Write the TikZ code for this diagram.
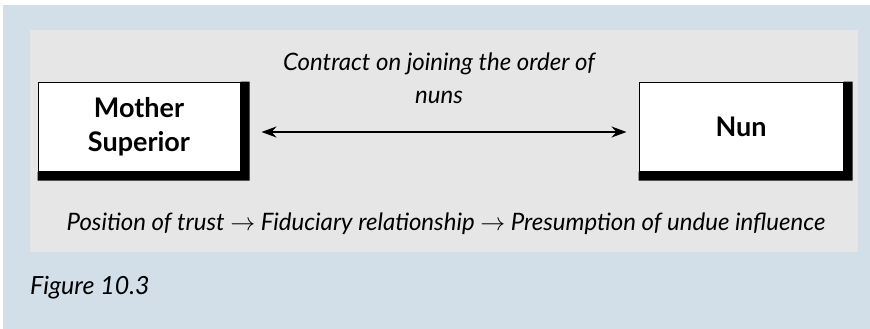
\documentclass[tikz,border=0pt]{standalone}
\usepackage{xcolor}
\usepackage{fontspec}
\setmainfont{Lato}
\usepackage{tikz}
\usetikzlibrary{arrows.meta}

\definecolor{pageblue}{HTML}{D3DFE8}
\definecolor{panelgrey}{HTML}{E6E6E6}

\begin{document}
\begin{tikzpicture}[x=1pt,y=1pt]
	\tikzstyle{every node}+=[inner sep=0pt]
	\tikzstyle{party}=[draw=black, line width=1pt, fill=white, minimum width=202pt, minimum height=89pt, align=center, font=\fontsize{27}{34}\selectfont\bfseries]
	\tikzstyle{remark}=[align=center, font=\fontsize{24}{33}\selectfont\itshape]
	\useasboundingbox (0,0) rectangle (870,-329);
	\fill [pageblue] (3,-5) rectangle (870,-329);
	\fill [panelgrey] (30,-30) rectangle (858,-252);
	% the two parties
	\node [party] (mother) at (139,-126.5) {Mother\\Superior};
	\node [party, minimum width=204pt] (nun) at (741,-126.5) {Nun};
	\fill [black] (mother.north east) -| ([shift={(9pt,-9pt)}]mother.south east) -| (mother.south west) -- (mother.south east) -- cycle;
	\fill [black] (nun.north east) -| ([shift={(9pt,-9pt)}]nun.south east) -| (nun.south west) -- (nun.south east) -- cycle;
	% the contract between them
	\draw [line width=1.8pt, {Stealth[length=15pt,width=11pt]}-{Stealth[length=15pt,width=11pt]}] ([shift={(21pt,-5.5pt)}]mother.east) -- ([shift={(-12pt,-5.5pt)}]nun.west);
	\node [remark] (contract) at (439,-78) {Contract on joining the order of\\nuns};
	\node [remark] (chain) at (446,-224) {Position of trust $\rightarrow$ Fiduciary relationship $\rightarrow$ Presumption of undue influence};
	\node [remark, anchor=west, font=\fontsize{25}{30}\selectfont\itshape] (caption) at (30,-288) {Figure 10.3};
\end{tikzpicture}
\end{document}
